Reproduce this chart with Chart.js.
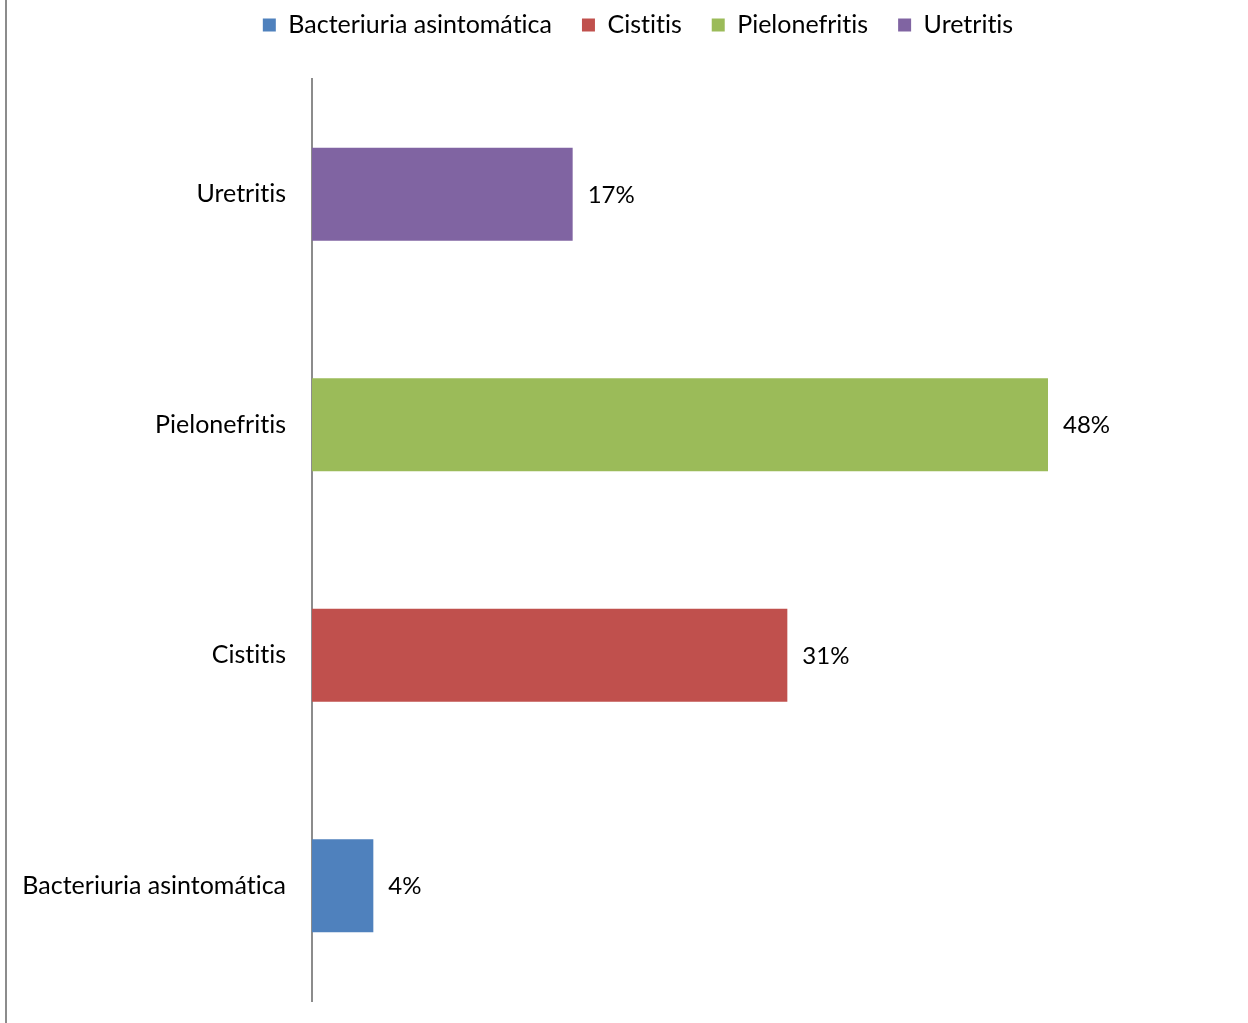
<!DOCTYPE html>
<html>
<head>
<meta charset="utf-8">
<script src="https://cdn.jsdelivr.net/npm/chart.js@4"></script>
<style>
html,body{margin:0;padding:0;background:#fff;}
#wrap{width:1248px;height:1023px;position:relative;}
</style>
</head>
<body>
<div id="wrap"><canvas id="c" width="1248" height="1023"></canvas></div>
<script>
const categories = ["Bacteriuria asintomática", "Cistitis", "Pielonefritis", "Uretritis"];
const seriesNames = ["Bacteriuria asintomática", "Cistitis", "Pielonefritis", "Uretritis"];
const values = [4, 31, 48, 17];
const colors = ["#4F81BD", "#C0504D", "#9BBB59", "#8064A2"];
const xMax = 60;

const FONT = "Lato";

const datasets = seriesNames.map((name, i) => ({
  label: name,
  data: categories.map((c, j) => (j === i ? values[i] : null)),
  backgroundColor: colors[i],
  borderWidth: 0,
  barPercentage: 1,
  categoryPercentage: 0.403
}));

function noLig(ctx) {
  try { ctx.textRendering = 'optimizeSpeed'; } catch (e) {}
  try { ctx.fontKerning = 'normal'; } catch (e) {}
}

const setupPlugin = {
  id: 'setup',
  beforeInit(chart) { noLig(chart.ctx); },
  afterInit(chart) {
    const lg = chart.legend;
    if (lg && !lg._patched) {
      const origFit = lg.fit.bind(lg);
      lg.fit = function () { origFit(); this.height += 31.5; };
      lg._patched = true;
    }
  },
  beforeLayout(chart) { noLig(chart.ctx); },
  afterLayout(chart) {
    const lg = chart.legend;
    if (lg) { lg.left = 44; }
  },
  beforeDraw(chart) { noLig(chart.ctx); }
};

const labelPlugin = {
  id: 'valLabels',
  afterDatasetsDraw(chart) {
    const ctx = chart.ctx;
    ctx.save();
    ctx.font = "24px " + FONT;
    ctx.fillStyle = "#000";
    ctx.textAlign = "left";
    ctx.textBaseline = "middle";
    chart.data.datasets.forEach((ds, i) => {
      const meta = chart.getDatasetMeta(i);
      meta.data.forEach((bar, j) => {
        const v = ds.data[j];
        if (v === null || v === undefined) return;
        ctx.fillText(v + "%", bar.x + 15, bar.y + 1);
      });
    });
    ctx.restore();
  }
};

const borderPlugin = {
  id: 'leftBorder',
  afterDraw(chart) {
    const ctx = chart.ctx;
    ctx.save();
    ctx.strokeStyle = "#8c8c8c";
    ctx.lineWidth = 2;
    ctx.beginPath();
    ctx.moveTo(6, 0);
    ctx.lineTo(6, chart.height);
    ctx.stroke();
    ctx.restore();
  }
};

new Chart(document.getElementById('c'), {
  type: 'bar',
  data: { labels: categories, datasets },
  options: {
    indexAxis: 'y',
    responsive: false,
    animation: false,
    layout: { padding: { top: -17.5, bottom: 22, left: 0, right: 16 } },
    plugins: {
      legend: {
        display: true,
        position: 'top',
        labels: {
          font: { family: FONT, size: 25 },
          color: '#000',
          boxWidth: 13,
          boxHeight: 13,
          padding: 30
        }
      },
      tooltip: { enabled: false }
    },
    scales: {
      x: {
        stacked: true,
        min: 0,
        max: xMax,
        display: false
      },
      y: {
        stacked: true,
        reverse: true,
        grid: { display: false, drawTicks: false },
        border: { display: true, color: '#8c8c8c', width: 2 },
        ticks: {
          font: { family: FONT, size: 25 },
          color: '#000',
          padding: 26
        },
        afterFit(scale) {
          scale.width = 312;
          scale.paddingTop = 0;
          scale.paddingBottom = 0;
        }
      }
    }
  },
  plugins: [setupPlugin, labelPlugin, borderPlugin]
});
</script>
</body>
</html>
